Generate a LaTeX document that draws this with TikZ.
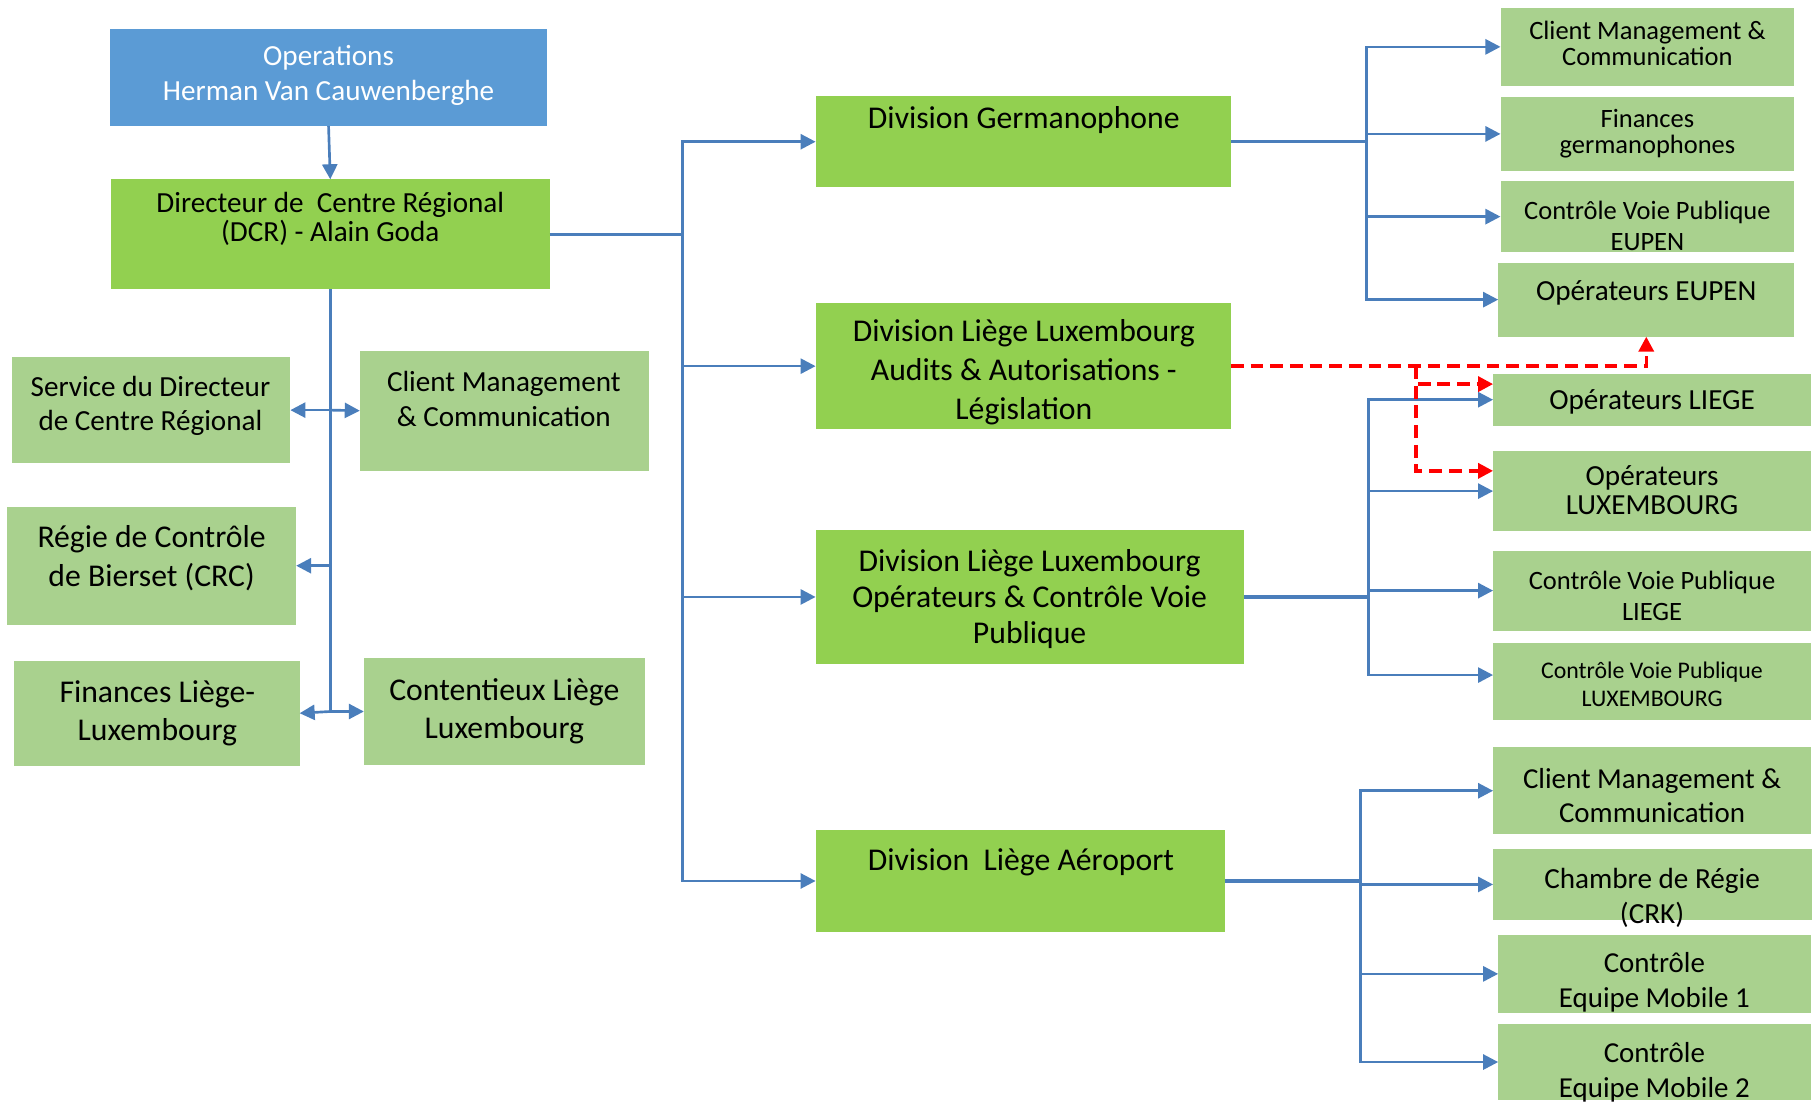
\documentclass[tikz,border=0pt]{standalone}
\usepackage{fontspec}
\setmainfont{Carlito}
\usetikzlibrary{arrows.meta,fit}

\definecolor{opsblue}{HTML}{5B9BD5}
\definecolor{divgreen}{HTML}{92D050}
\definecolor{unitgreen}{HTML}{A9D18E}
\definecolor{linkblue}{HTML}{4A7EBB}

\tikzset{
  box/.style={inner sep=0pt, outer sep=0pt},
  opsbox/.style={box, fill=opsblue},
  divbox/.style={box, fill=divgreen},
  unitbox/.style={box, fill=unitgreen},
  txt/.style={inner sep=0pt, align=center, yshift=-1pt},
  tbig/.style={txt, font=\fontsize{13.7}{16.5}\selectfont},
  tmed/.style={txt, font=\fontsize{12.6}{15}\selectfont},
  tsmall/.style={txt, font=\fontsize{11.45}{13.5}\selectfont},
  conn/.style={draw=linkblue, line width=1.15pt},
  feed/.style={draw=linkblue, line width=1.5pt},
  arr/.style={conn, -{Triangle[length=6.5pt,width=6.5pt]}},
  redarr/.style={draw=red, line width=1.5pt, dash pattern=on 5.5pt off 3pt,
    -{Triangle[length=6.5pt,width=6.5pt]}},
}

\begin{document}
\begin{tikzpicture}[x=0.5pt, y=-0.5pt]
    \useasboundingbox (0,0) rectangle (1568,953.4);

    % Direction
    \node[opsbox, fit={(95,25) (473,109)}] (ops) {};
    \node[tmed, white] (ops-t) at (284,63) {Operations\\Herman Van Cauwenberghe};
    \node[divbox, fit={(96,155) (475,250)}] (dcr) {};
    \node[txt, font=\fontsize{12.6}{12.5}\selectfont] (dcr-t) at (285.5,187) {Directeur de\ \ Centre Régional\\(DCR) - Alain Goda};

    % Services attached to the DCR
    \node[unitbox, fit={(10,309) (251,400)}] (svc) {};
    \node[txt, font=\fontsize{12.6}{14.75}\selectfont] (svc-t) at (130,349) {Service du Directeur\\de Centre Régional};
    \node[unitbox, fit={(311,303) (561,407)}] (cml) {};
    \node[tmed] (cml-t) at (435.5,343) {Client Management\\\& Communication};
    \node[unitbox, fit={(6,438) (256,540)}] (regie) {};
    \node[tbig] (regie-t) at (131,480.5) {Régie de Contrôle\\de Bierset (CRC)};
    \node[unitbox, fit={(12,571) (259,662)}] (finl) {};
    \node[tbig] (finl-t) at (136,614.5) {Finances Liège-\\Luxembourg};
    \node[unitbox, fit={(314.5,569) (557.5,661)}] (cont) {};
    \node[tbig] (cont-t) at (436,612.5) {Contentieux Liège\\Luxembourg};

    % Divisions
    \node[divbox, fit={(705,83) (1064,162)}] (dger) {};
    \node[tbig] (dger-t) at (885,102) {Division Germanophone};
    \node[divbox, fit={(705,262) (1064,371)}] (daud) {};
    \node[txt, font=\fontsize{13.7}{16.8}\selectfont] (daud-t) at (885,320) {Division Liège Luxembourg\\Audits \& Autorisations -\\Législation};
    \node[divbox, fit={(705,458) (1075,574)}] (dop) {};
    \node[txt, font=\fontsize{13.7}{15.5}\selectfont] (dop-t) at (890,516) {Division Liège Luxembourg\\Opérateurs \& Contrôle Voie\\Publique};
    \node[divbox, fit={(705,717.5) (1059,805.5)}] (daer) {};
    \node[tbig] (daer-t) at (882.5,743) {Division\ \ Liège Aéroport};

    % Units of the Division Germanophone
    \node[unitbox, fit={(1297,7) (1551,74)}] (gcm) {};
    \node[txt, font=\fontsize{11.45}{11.5}\selectfont] (gcm-t) at (1424,35.5) {Client Management \&\\Communication};
    \node[unitbox, fit={(1297,84) (1551,147.5)}] (gfin) {};
    \node[txt, font=\fontsize{11.45}{11.5}\selectfont] (gfin-t) at (1424,113.5) {Finances\\germanophones};
    \node[unitbox, fit={(1297,156.5) (1551,218)}] (gcvp) {};
    \node[tsmall] (gcvp-t) at (1424,193.5) {Contrôle Voie Publique\\EUPEN};
    \node[unitbox, fit={(1295,227) (1551,291)}] (gop) {};
    \node[tmed] (gop-t) at (1423,251.5) {Opérateurs EUPEN};

    % Units of the Division Liège Luxembourg
    \node[unitbox, fit={(1290.6,323) (1565,368)}] (lop) {};
    \node[tmed] (lop-t) at (1428,345) {Opérateurs LIEGE};
    \node[unitbox, fit={(1290.6,390) (1565,459)}] (lopx) {};
    \node[txt, font=\fontsize{12.6}{12.5}\selectfont] (lopx-t) at (1428,421.5) {Opérateurs\\LUXEMBOURG};
    \node[unitbox, fit={(1290.6,476) (1565,545)}] (lcvp) {};
    \node[txt, font=\fontsize{11.45}{13.2}\selectfont] (lcvp-t) at (1428,513) {Contrôle Voie Publique\\LIEGE};
    \node[unitbox, fit={(1290.6,556) (1565,622)}] (lcvpx) {};
    \node[txt, font=\fontsize{10.3}{12.5}\selectfont] (lcvpx-t) at (1428,589.5) {Contrôle Voie Publique\\LUXEMBOURG};

    % Units of the Division Liège Aéroport
    \node[unitbox, fit={(1290.6,646) (1565,721)}] (acm) {};
    \node[txt, font=\fontsize{12.5}{14.75}\selectfont] (acm-t) at (1428,686) {Client Management \&\\Communication};
    \node[unitbox, fit={(1290.6,734) (1566,795)}] (acrk) {};
    \node[tmed] (acrk-t) at (1428,774) {Chambre de Régie\\(CRK)};
    \node[unitbox, fit={(1295,808) (1565,875.6)}] (aem1) {};
    \node[txt, font=\fontsize{12.5}{15.3}\selectfont] (aem1-t) at (1430,847) {Contrôle\\Equipe Mobile 1};
    \node[unitbox, fit={(1295,885) (1565,951)}] (aem2) {};
    \node[txt, font=\fontsize{12.5}{15.3}\selectfont] (aem2-t) at (1430,925) {Contrôle\\Equipe Mobile 2};

    % Bus points
    \coordinate (mbus) at (590,202.5);
    \coordinate (gbus) at (1181,122.5);
    \coordinate (lbus) at (1183,516);
    \coordinate (abus) at (1176,761.5);
    \coordinate (rjoin) at (1224,316.5);

    % Connectors on the left
    \draw[arr] (ops.south) -- (dcr.north);
    \draw[conn] (dcr.south) -- (dcr.south |- cont.west);
    \draw[arr] (dcr.south |- svc.east) -- (svc.east);
    \draw[arr] (dcr.south |- svc.east) -- (cml.west);
    \draw[arr] (dcr.south |- regie.east) -- (regie.east);
    \draw[arr] (dcr.south |- cont.west) -- (finl.east);
    \draw[arr] (dcr.south |- cont.west) -- (cont.west);

    % Connectors to the divisions
    \draw[feed] (dcr.east) -- (mbus);
    \draw[arr] (mbus) |- (dger.west);
    \draw[arr] (mbus) |- (daer.west);
    \foreach \n in {daud,dop}
        \draw[arr] (\n.west -| mbus) -- (\n.west);

    % Connectors to the units
    \draw[feed] (dger.east) -- (gbus);
    \draw[arr] (gbus) |- (gcm.west);
    \draw[arr] (gbus) |- (gop.west);
    \foreach \n in {gfin,gcvp}
        \draw[arr] (\n.west -| gbus) -- (\n.west);

    \draw[feed] (dop.east) -- (lbus);
    \draw[arr] (lbus) |- (lop.west);
    \draw[arr] (lbus) |- ([yshift=2.75pt]lcvpx.west);
    \foreach \n in {lopx,lcvp}
        \draw[arr] (\n.west -| lbus) -- (\n.west);

    \draw[feed] (daer.east) -- (abus);
    \draw[arr] (abus) |- (acm.west);
    \draw[arr] (abus) |- (aem2.west);
    \foreach \n in {acrk,aem1}
        \draw[arr] (\n.west -| abus) -- (\n.west);

    % Dashed links from Audits
    \draw[redarr] (daud.east) -| (gop.south);
    \draw[redarr] (rjoin) |- ([yshift=6.75pt]lop.west);
    \draw[redarr] (rjoin) |- ([yshift=8.75pt]lopx.west);
\end{tikzpicture}
\end{document}
